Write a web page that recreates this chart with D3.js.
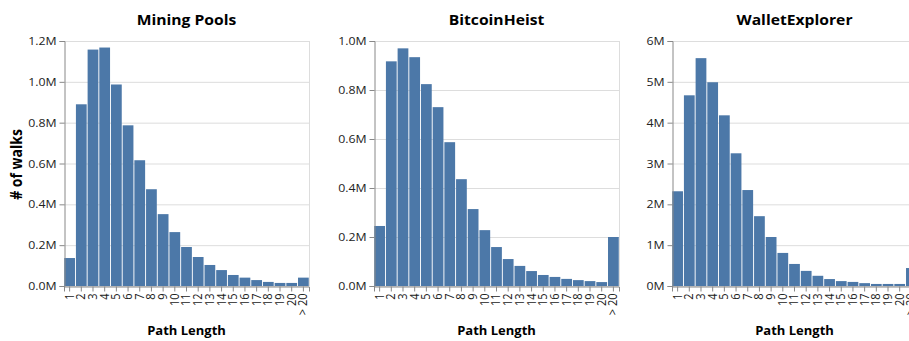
<!DOCTYPE html>
<html><head><meta charset="utf-8">
<script src="https://cdn.jsdelivr.net/npm/d3@7"></script>
<style>
body{margin:0;background:#fff;}
svg{display:block;font-family:"Open Sans",sans-serif;}
</style></head>
<body><svg id="c" width="909" height="341"></svg>
<script>
const categories = ["1","2","3","4","5","6","7","8","9","10","11","12","13","14","15","16","17","18","19","20","> 20"];
const titles = ["Mining Pools","BitcoinHeist","WalletExplorer"];
const miningPools = [0.137,0.890,1.158,1.168,0.987,0.787,0.616,0.474,0.352,0.264,0.191,0.142,0.103,0.078,0.054,0.041,0.029,0.020,0.015,0.015,0.041];
const bitcoinHeist = [0.245,0.917,0.970,0.934,0.824,0.730,0.587,0.436,0.314,0.228,0.159,0.110,0.082,0.061,0.045,0.037,0.029,0.024,0.020,0.016,0.200];
const walletExplorer = [2.32,4.67,5.58,4.99,4.18,3.25,2.35,1.71,1.20,0.81,0.54,0.37,0.25,0.17,0.12,0.10,0.07,0.05,0.05,0.05,0.44];
const yMax = [1.2,1.0,6];
const yTicks = [[0,0.2,0.4,0.6,0.8,1.0,1.2],[0,0.2,0.4,0.6,0.8,1.0],[0,1,2,3,4,5,6]];
const yFormats = [".1f",".1f",".0f"];
const series = [miningPools,bitcoinHeist,walletExplorer];

const svg = d3.select("#c");
const W = 245, H = 245, plotTop = 41;
const lefts = [64,374,672];
const SX = 1.12;

series.forEach((vals,i)=>{
  const g = svg.append("g").attr("transform",`translate(${lefts[i]},${plotTop})`);
  const x = d3.scaleBand().domain(categories).range([0,W]).paddingInner(0.08).paddingOuter(0.02);
  const y = d3.scaleLinear().domain([0,yMax[i]]).range([H,0]);
  g.append("g").selectAll("line").data(yTicks[i]).join("line")
    .attr("x1",0).attr("x2",W).attr("y1",d=>y(d)+0.5).attr("y2",d=>y(d)+0.5)
    .attr("stroke","#ddd");
  g.append("line").attr("x1",W+0.5).attr("x2",W+0.5).attr("y1",0).attr("y2",H).attr("stroke","#ddd");
  g.append("line").attr("x1",0).attr("x2",W).attr("y1",0.5).attr("y2",0.5).attr("stroke","#ddd");
  g.append("g").selectAll("rect").data(vals).join("rect")
    .attr("x",(d,j)=>x(categories[j])).attr("width",x.bandwidth())
    .attr("y",d=>y(d)).attr("height",d=>H-y(d)).attr("fill","#4c78a8");
  const fmt = d3.format(yFormats[i]);
  const ya = g.append("g").attr("transform","translate(0.5,0)")
    .call(d3.axisLeft(y).tickValues(yTicks[i]).tickFormat(d=>fmt(d)+"M").tickSize(5).tickPadding(2));
  ya.select(".domain").attr("stroke","#888");
  ya.selectAll(".tick line").attr("stroke","#888");
  ya.selectAll("text").attr("font-size",11).attr("fill","#222").attr("font-family","Open Sans")
    .attr("x",0).attr("transform",`translate(-8,0) scale(${SX},1)`);
  const xa = g.append("g").attr("transform",`translate(0,${H+0.5})`)
    .call(d3.axisBottom(x).tickSize(5).tickPadding(2));
  xa.select(".domain").attr("stroke","#888");
  xa.selectAll(".tick line").attr("stroke","#888");
  xa.selectAll("text").attr("font-size",11).attr("fill","#222").attr("font-family","Open Sans")
    .attr("transform",`scale(${SX},1) rotate(-90)`).attr("text-anchor","end").attr("dy","0.32em").attr("x",-7).attr("y",0);
  g.append("text").attr("transform",`translate(${W/2},-16) scale(${SX},1)`).attr("text-anchor","middle")
    .attr("font-size",14).attr("font-weight","bold").attr("fill","#000").text(titles[i]);
  g.append("text").attr("transform",`translate(${W/2},${H+49}) scale(1.04,1)`).attr("text-anchor","middle")
    .attr("font-size",12.5).attr("font-weight","bold").attr("fill","#000").text("Path Length");
  if(i===0){
    g.append("text").attr("transform",`translate(-42,${H/2 + 1}) scale(${SX},1) rotate(-90)`).attr("text-anchor","middle")
      .attr("font-size",14).attr("font-weight","bold").attr("fill","#000").text("# of walks");
  }
});
</script></body></html>
